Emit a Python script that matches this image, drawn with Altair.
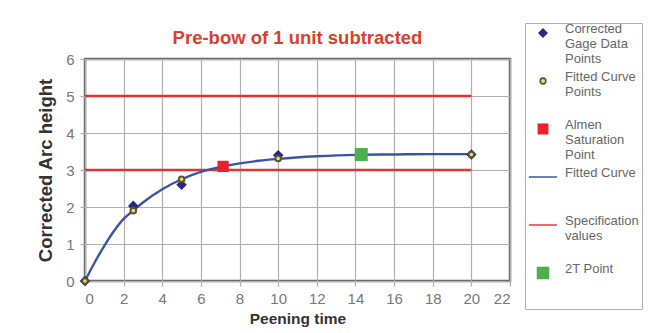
import altair as alt
import pandas as pd

# ---- data ----
gage_x = [0, 2.5, 5, 10, 20]
gage_y = [0, 2.03, 2.6, 3.4, 3.42]
fitpts_x = [0, 2.5, 5, 10, 20]
fitpts_y = [0, 1.9, 2.75, 3.31, 3.42]
almen_x = [7.15]
almen_y = [3.1]
t2_x = [14.3]
t2_y = [3.42]
curve_x = [0, 0.5, 1, 1.5, 2, 2.5, 3, 4, 5, 6, 7, 8, 9, 10, 12, 14, 16, 18, 20]
curve_y = [0, 0.5, 0.95, 1.35, 1.68, 1.9, 2.12, 2.48, 2.75, 2.95, 3.08, 3.18, 3.25, 3.3, 3.37, 3.41, 3.42, 3.43, 3.43]
spec_levels = [5, 3]
spec_x = [0, 20]

names = ["Corrected|Gage Data|Points", "Fitted Curve|Points| ", "Almen|Saturation|Point",
         "Fitted Curve| | ", "Specification|values| ", "2T Point| | "]
fills = ["#28287e", "#e6df6e", "#e8212b", "#3a55a8", "#e83a3a", "#4cb04c"]
strokes = ["#28287e", "#5a5530", "#e8212b", "#3a55a8", "#e83a3a", "#4cb04c"]
shapes = ["diamond", "circle", "square", "stroke", "stroke", "square"]
sizes = [60, 32, 85, 800, 800, 120]

pts = pd.DataFrame(
    [{"x": a, "y": b, "series": names[0]} for a, b in zip(gage_x, gage_y)]
    + [{"x": a, "y": b, "series": names[1]} for a, b in zip(fitpts_x, fitpts_y)]
    + [{"x": a, "y": b, "series": names[2]} for a, b in zip(almen_x, almen_y)]
    + [{"x": a, "y": b, "series": names[5]} for a, b in zip(t2_x, t2_y)]
)
curve = pd.DataFrame({"x": curve_x, "y": curve_y})
spec = pd.DataFrame([{"x": a, "y": lv, "lvl": str(lv)} for lv in spec_levels for a in spec_x])

xs = alt.Scale(domain=[0, 22], nice=False)
ys = alt.Scale(domain=[0, 6], nice=False)
X = alt.X("x:Q", scale=xs, title="Peening time",
          axis=alt.Axis(values=list(range(0, 23, 2)), titlePadding=5, labelPadding=5,
                        titleFontSize=15.5))
Y = alt.Y("y:Q", scale=ys, title="Corrected Arc height",
          axis=alt.Axis(values=list(range(0, 7)), titlePadding=10, labelPadding=6,
                        titleFontSize=18.5))

spec_layer = alt.Chart(spec).mark_line(color="#e23434", strokeWidth=2.4).encode(
    x=X, y=Y, detail="lvl:N")
curve_layer = alt.Chart(curve).mark_line(color="#3a55a8", strokeWidth=2.4,
                                         interpolate="monotone").encode(x=X, y=Y)

legend = alt.Legend(
    title=None, orient="none", legendX=440, legendY=-36,
    labelExpr="split(datum.label, '|')", labelBaseline="alphabetic",
    labelFontSize=13, labelColor="#666666", labelFont="Liberation Sans",
    gridAlign="all", rowPadding=5, padding=3, clipHeight=14,
    strokeColor="#b0b0b0", fillColor="#ffffff", symbolStrokeWidth=1.6,
    labelOffset=7, labelLimit=200,
)
point_layer = alt.Chart(pts).mark_point(filled=True, opacity=1).encode(
    x=X, y=Y,
    fill=alt.Fill("series:N", scale=alt.Scale(domain=names, range=fills), legend=legend, sort=names),
    stroke=alt.Stroke("series:N", scale=alt.Scale(domain=names, range=strokes), legend=legend, sort=names),
    shape=alt.Shape("series:N", scale=alt.Scale(domain=names, range=shapes), legend=legend, sort=names),
    size=alt.Size("series:N", scale=alt.Scale(type="ordinal", domain=names, range=sizes), legend=legend, sort=names),
)

chart = alt.layer(spec_layer, curve_layer, point_layer).properties(
    width=425, height=222,
    padding={"left": 28, "top": 14, "right": 2, "bottom": 0},
    title=alt.Title("Pre-bow of 1 unit subtracted", color="#d8402e", fontSize=18.5,
                    fontWeight="bold", anchor="middle", offset=13, dy=38, font="Liberation Sans"),
).configure_axis(
    grid=True, gridColor="#b0b0b0", gridWidth=1.2, domain=False, ticks=True,
    tickColor="#b0b0b0", tickSize=5, tickWidth=1.2,
    labelColor="#777777", labelFontSize=15, labelFont="Liberation Sans",
    titleFont="Liberation Sans", titleFontWeight="bold", titleColor="#333333",
).configure_view(stroke="#6a6a6a", strokeWidth=2.5)

chart.save("out.html", embed_options={"renderer": "svg", "actions": False})
